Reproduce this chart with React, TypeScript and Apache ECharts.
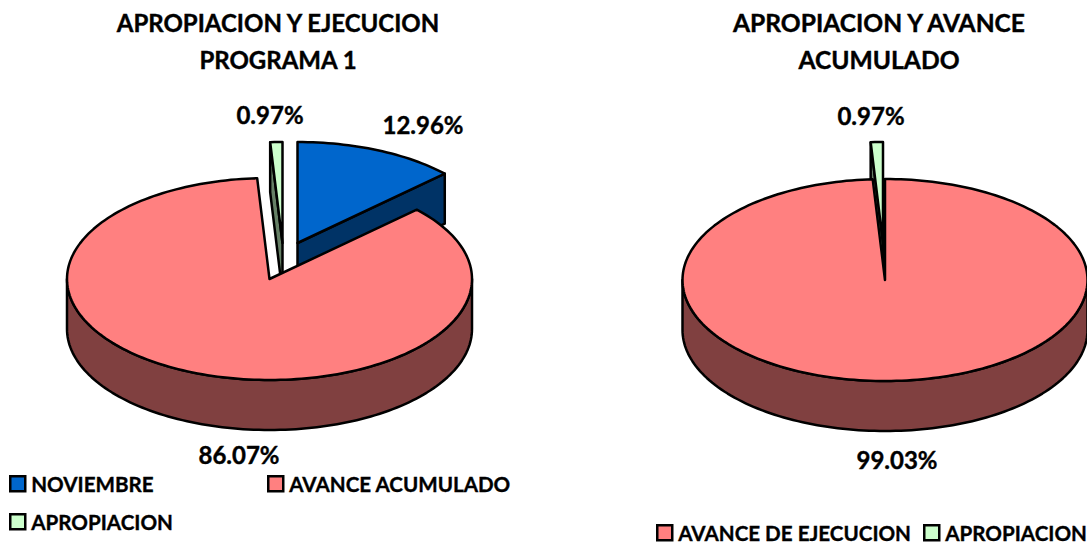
import React, { useEffect, useRef } from "react";
import * as echarts from "echarts";

const FONT = "Lato";

const leftTitle = "APROPIACION Y EJECUCION\nPROGRAMA 1";
const rightTitle = "APROPIACION Y AVANCE\nACUMULADO";

const leftNames = ["NOVIEMBRE", "AVANCE ACUMULADO", "APROPIACION"];
const leftValues = [12.96, 86.07, 0.97];
const rightNames = ["AVANCE DE EJECUCION", "APROPIACION"];
const rightValues = [99.03, 0.97];

const PINK = { top: "#FF8080", side: "#804040" };
const BLUE = { top: "#0066CC", side: "#003366" };
const GREEN = { top: "#CCFFCC", side: "#668066" };

type Slice = {
  name: string;
  value: number;
  start: number;
  end: number;
  color: { top: string; side: string };
  dx: number;
  dy: number;
  labelX: number;
  labelY: number;
  order: number;
};

const RX = 202.5;
const RY = 101;
const DEPTH = 50;

function pt(cx: number, cy: number, deg: number): number[] {
  const a = (deg * Math.PI) / 180;
  return [cx + RX * Math.sin(a), cy - RY * Math.cos(a)];
}

function arc(cx: number, cy: number, from: number, to: number): number[][] {
  const out: number[][] = [];
  const n = Math.max(2, Math.ceil(Math.abs(to - from) / 1.5));
  for (let i = 0; i <= n; i++) out.push(pt(cx, cy, from + ((to - from) * i) / n));
  return out;
}

function makeSlices(
  names: string[],
  values: number[],
  colors: { top: string; side: string }[],
  offsets: number[][],
  labels: number[][],
  orders: number[],
  cx: number,
  cy: number
) {
  const total = values.reduce((a, b) => a + b, 0);
  let acc = 0;
  return names.map((name, i) => {
    const start = (acc / total) * 360;
    acc += values[i];
    const end = (acc / total) * 360;
    return {
      name,
      value: values[i],
      start,
      end,
      color: colors[i],
      dx: cx + offsets[i][0],
      dy: cy + offsets[i][1],
      labelX: labels[i][0],
      labelY: labels[i][1],
      order: orders[i],
    } as Slice;
  });
}

const leftSlices = makeSlices(
  leftNames,
  leftValues,
  [BLUE, PINK, GREEN],
  [
    [28, -36],
    [0, 0],
    [13, -36],
  ],
  [
    [423, 124.5],
    [239, 454.5],
    [270, 114.5],
  ],
  [1, 2, 0],
  269.5,
  279
);

const rightSlices = makeSlices(
  rightNames,
  rightValues,
  [PINK, GREEN],
  [
    [0, 0],
    [-2, -37],
  ],
  [
    [897, 459.5],
    [871, 115],
  ],
  [1, 0],
  885,
  280
);

const stroke = { stroke: "#000", lineWidth: 2.5, lineJoin: "round" };

function sliceSeries(s: Slice) {
  return {
    type: "custom",
    name: s.name,
    coordinateSystem: "none",
    silent: true,
    z: 2 + s.order,
    data: [s.value],
    renderItem: (_p: unknown, api: { value: (i: number) => number }) => {
      const v = api.value(0);
      const x = s.dx;
      const y = s.dy;
      const startP = pt(x, y, s.start);
      const endP = pt(x, y, s.end);
      const children: unknown[] = [];
      const wall = (p: number[]) => ({
        type: "polygon",
        shape: {
          points: [[x, y], p, [p[0], p[1] + DEPTH], [x, y + DEPTH]],
        },
        style: { fill: s.color.side, ...stroke },
      });
      // cut faces that look towards the viewer
      if (s.end - s.start < 180) {
        children.push(wall(s.start > 180 ? startP : endP));
      }
      // outer rim on the front half
      const rimFrom = Math.max(s.start, 90);
      const rimTo = Math.min(s.end, 270);
      if (rimTo > rimFrom) {
        const upper = arc(x, y, rimFrom, rimTo);
        const lower = upper.map((q) => [q[0], q[1] + DEPTH]).reverse();
        children.push({
          type: "polygon",
          shape: { points: upper.concat(lower) },
          style: { fill: s.color.side, ...stroke },
        });
      }
      // top face
      children.push({
        type: "polygon",
        shape: { points: [[x, y]].concat(arc(x, y, s.start, s.end)) },
        style: { fill: s.color.top, ...stroke },
      });
      // percent label
      children.push({
        type: "text",
        z2: 100,
        style: {
          text: v.toFixed(2) + "%",
          x: s.labelX,
          y: s.labelY,
          align: "center",
          verticalAlign: "middle",
          fill: "#000",
          stroke: "#000",
          lineWidth: 0.4,
          font: `bold 24px ${FONT}`,
        },
      });
      return { type: "group", children };
    },
  };
}

function legendItem(name: string, color: string, left: number, top: number) {
  return {
    show: true,
    selectedMode: false,
    orient: "horizontal",
    left,
    top,
    padding: 0,
    itemWidth: 15,
    itemHeight: 15,
    itemGap: 0,
    textStyle: {
      fontFamily: FONT,
      fontWeight: "bold",
      fontSize: 20.6,
      color: "#000",
      textBorderColor: "#000",
      textBorderWidth: 0.35,
      padding: [0, 0, 0, 1],
    },
    data: [
      {
        name,
        icon: "rect",
        itemStyle: { color, borderColor: "#000", borderWidth: 2.5 },
      },
    ],
  };
}

function titleItem(text: string, left: number, fontSize: number) {
  return {
    text,
    left,
    top: 4,
    textAlign: "center",
    padding: 0,
    textStyle: {
      fontFamily: FONT,
      fontWeight: "bold",
      fontSize,
      lineHeight: 37,
      color: "#000",
      textBorderColor: "#000",
      textBorderWidth: 0.4,
    },
  };
}

export default function App() {
  const ref = useRef<HTMLDivElement>(null);
  useEffect(() => {
    const chart = echarts.init(ref.current!, undefined, { renderer: "svg" });
    chart.setOption({
      animation: false,
      backgroundColor: "#fff",
      title: [titleItem(leftTitle, 278, 24), titleItem(rightTitle, 879, 24.6)],
      legend: [
        legendItem(leftNames[0], BLUE.top, 9, 473),
        legendItem(leftNames[1], PINK.top, 267, 473),
        legendItem(leftNames[2], GREEN.top, 9, 511),
        legendItem(rightNames[0], PINK.top, 656, 522),
        legendItem(rightNames[1], GREEN.top, 923, 522),
      ],
      series: leftSlices.concat(rightSlices).map(sliceSeries),
    });
    return () => chart.dispose();
  }, []);
  return (
    <div
      ref={ref}
      style={{ position: "fixed", left: 0, top: 0, width: 1087, height: 545 }}
    />
  );
}
